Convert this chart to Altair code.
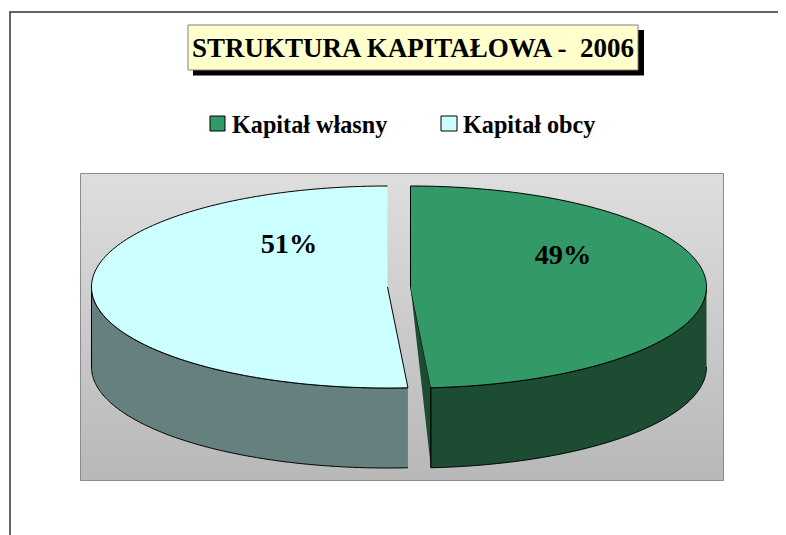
import math
import altair as alt
import pandas as pd

# Values
categories = ["Kapitał własny", "Kapitał obcy"]
shares = [48.9, 51.1]
title_text = "STRUKTURA KAPITAŁOWA -\u00a0\u00a02006"
top_colors = ["#339966", "#CCFFFF"]
wall_colors = ["#1C4D33", "#668080"]

# Layout (page pixels)
W, H = 770, 527
X = alt.X("x:Q", scale=alt.Scale(domain=[8, 778], range=[0, W], nice=False, zero=False), axis=None)
Y = alt.Y("y:Q", scale=alt.Scale(domain=[8, 535], range=[0, H], nice=False, zero=False), axis=None)
RX, RY, DEPTH = 296, 101, 80
CY = 287
CX = [410.5, 387.5]
FONT = "Liberation Serif"


def arc(cx, a, b, shift=0, n=140):
    return [(cx + RX * math.sin(math.radians(a + (b - a) * i / n)),
             CY + shift - RY * math.cos(math.radians(a + (b - a) * i / n))) for i in range(n + 1)]


def poly(points, fill, stroke="black", sw=1):
    df = pd.DataFrame(points, columns=["x", "y"])
    df["o"] = range(len(df))
    return alt.Chart(df).mark_line(fill=fill, stroke=stroke, strokeWidth=sw, strokeJoin="round").encode(
        x=X, y=Y, order="o:Q")


def box(x, x2, y, y2, **kw):
    df = pd.DataFrame({"x": [x], "x2": [x2], "y": [y], "y2": [y2]})
    return alt.Chart(df).mark_rect(**kw).encode(x=X, x2="x2:Q", y=Y, y2="y2:Q")


def label(text, x, y, size, align="left"):
    df = pd.DataFrame({"x": [x], "y": [y], "t": [text]})
    return alt.Chart(df).mark_text(font=FONT, fontWeight="bold", fontSize=size, color="black",
                                   align=align, baseline="alphabetic").encode(x=X, y=Y, text="t:N")


end = shares[0] / sum(shares) * 360
gx, lx = CX

layers = [
    # outer frame
    alt.Chart(pd.DataFrame({"x": [10, 10, 778], "y": [535, 12, 12], "o": [0, 1, 2]}))
    .mark_line(stroke="#333333", strokeWidth=1.5).encode(x=X, y=Y, order="o:Q"),
    # title
    box(193, 644, 30, 75.5, fill="black"),
    box(188, 638, 25, 70, fill="#FFFFCC", stroke="#808080", strokeWidth=1),
    label(title_text, 192, 57, 27),
    # legend
    box(210, 225, 116, 131, fill=top_colors[0], stroke="black", strokeWidth=1),
    label(categories[0], 232, 133, 24.2),
    box(441, 457, 116, 131, fill=top_colors[1], stroke="black", strokeWidth=1),
    label(categories[1], 463, 133, 24.2),
    # plot background
    box(80.5, 723.5, 173.5, 480.5, stroke="#8C8C8C", strokeWidth=1,
        fill=alt.Gradient(gradient="linear", x1=0, x2=0, y1=0, y2=1,
                          stops=[alt.GradientStop(offset=0, color="#DEDEDE"),
                                 alt.GradientStop(offset=1, color="#B8B8B8")])),
    # light slice
    poly(arc(lx, end, 270) + arc(lx, 270, end, DEPTH), wall_colors[1]),
    poly([(lx, CY - RY)] + arc(lx, 360, end) + [(lx, CY)], top_colors[1]),
    # green slice
    poly([(gx, CY)] + arc(gx, end, end)[:1] + arc(gx, end, end, DEPTH)[:1], wall_colors[0]),
    poly(arc(gx, 90, end) + arc(gx, end, 90, DEPTH), wall_colors[0]),
    poly([(gx, CY)] + arc(gx, 0, end), top_colors[0]),
    # percentages
    label(f"{round(shares[1])}%", 289, 253, 28.3, "center"),
    label(f"{round(shares[0])}%", 563, 264, 28.3, "center"),
]

chart = alt.layer(*layers).properties(
    width=W, height=H, padding=0, autosize=alt.AutoSizeParams(type="none"),
    background="white",
).configure_view(stroke=None)

chart.save("out.html", embed_options={"renderer": "svg", "actions": False})
